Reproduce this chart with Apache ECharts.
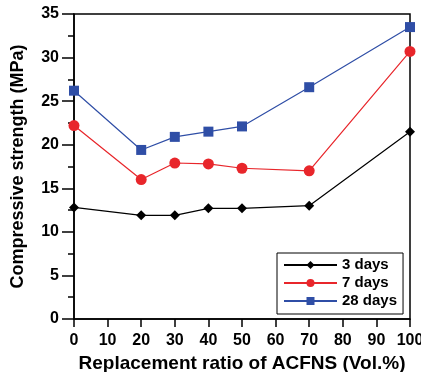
<!DOCTYPE html>
<html>
<head>
<meta charset="utf-8">
<script src="https://cdn.jsdelivr.net/npm/echarts@6/dist/echarts.min.js"></script>
<style>
html, body { margin: 0; padding: 0; background: #fff; }
#chart { width: 421px; height: 372px; }
</style>
</head>
<body>
<div id="chart"></div>
<script>
var ratio = [0, 20, 30, 40, 50, 70, 100];
var days3 = [12.8, 11.9, 11.9, 12.7, 12.7, 13.0, 21.5];
var days7 = [22.2, 16.0, 17.9, 17.8, 17.3, 17.0, 30.7];
var days28 = [26.2, 19.4, 20.9, 21.5, 22.1, 26.6, 33.5];

function pairs(vals) {
	return ratio.map(function (r, i) { return [r, vals[i]]; });
}

var chart = echarts.init(document.getElementById('chart'));

var font = 'Liberation Sans, Arial, sans-serif';

var option = {
	backgroundColor: '#fff',
	animation: false,
	grid: {
		left: 74,
		right: 11,
		top: 14,
		bottom: 53,
		outerBoundsMode: 'none',
		show: true,
		borderColor: '#000',
		borderWidth: 1.5
	},
	legend: {
		orient: 'vertical',
		left: 277,
		top: 253,
		padding: [4, 6, 5, 6],
		itemWidth: 53,
		itemHeight: 10,
		itemGap: 2,
		backgroundColor: '#fff',
		borderColor: '#000',
		borderWidth: 1,
		textStyle: {
			fontFamily: font,
			fontWeight: 'bold',
			fontSize: 15,
			color: '#000',
			lineHeight: 16
		},
		data: ['3 days', '7 days', '28 days']
	},
	xAxis: {
		type: 'value',
		min: 0,
		max: 100,
		interval: 10,
		name: 'Replacement ratio of ACFNS (Vol.%)',
		nameLocation: 'middle',
		nameGap: 31,
		nameTextStyle: {
			fontFamily: font,
			fontWeight: 'bold',
			fontSize: 19,
			color: '#000'
		},
		axisLine: { lineStyle: { color: '#000', width: 1.5 } },
		axisTick: { inside: false, length: 8, lineStyle: { color: '#000', width: 1.5 } },
		axisLabel: {
			fontFamily: font,
			fontWeight: 'bold',
			fontSize: 16,
			color: '#000',
			margin: 14
		},
		splitLine: { show: false }
	},
	yAxis: {
		type: 'value',
		min: 0,
		max: 35,
		interval: 5,
		name: 'Compressive strength (MPa)',
		nameLocation: 'middle',
		nameGap: 47,
		nameTextStyle: {
			fontFamily: font,
			fontWeight: 'bold',
			fontSize: 18,
			color: '#000'
		},
		axisLine: { lineStyle: { color: '#000', width: 1.5 } },
		axisTick: { inside: false, length: 12, lineStyle: { color: '#000', width: 1.5 } },
		minorTick: { show: true, splitNumber: 2, length: 6, lineStyle: { color: '#000', width: 1.5 } },
		axisLabel: {
			fontFamily: font,
			fontWeight: 'bold',
			fontSize: 16,
			color: '#000',
			margin: 15
		},
		splitLine: { show: false }
	},
	series: [{
		name: '3 days',
		type: 'line',
		data: pairs(days3),
		symbol: 'diamond',
		symbolSize: 10,
		color: '#000',
		lineStyle: { width: 1.2, color: '#000' },
		itemStyle: { color: '#000' }
	}, {
		name: '7 days',
		type: 'line',
		data: pairs(days7),
		symbol: 'circle',
		symbolSize: 11,
		color: '#e8262b',
		lineStyle: { width: 1.2, color: '#e8262b' },
		itemStyle: { color: '#e8262b' }
	}, {
		name: '28 days',
		type: 'line',
		data: pairs(days28),
		symbol: 'rect',
		symbolSize: 10,
		color: '#2f4ea6',
		lineStyle: { width: 1.2, color: '#2f4ea6' },
		itemStyle: { color: '#2f4ea6' }
	}]
};

chart.setOption(option);
</script>
</body>
</html>
